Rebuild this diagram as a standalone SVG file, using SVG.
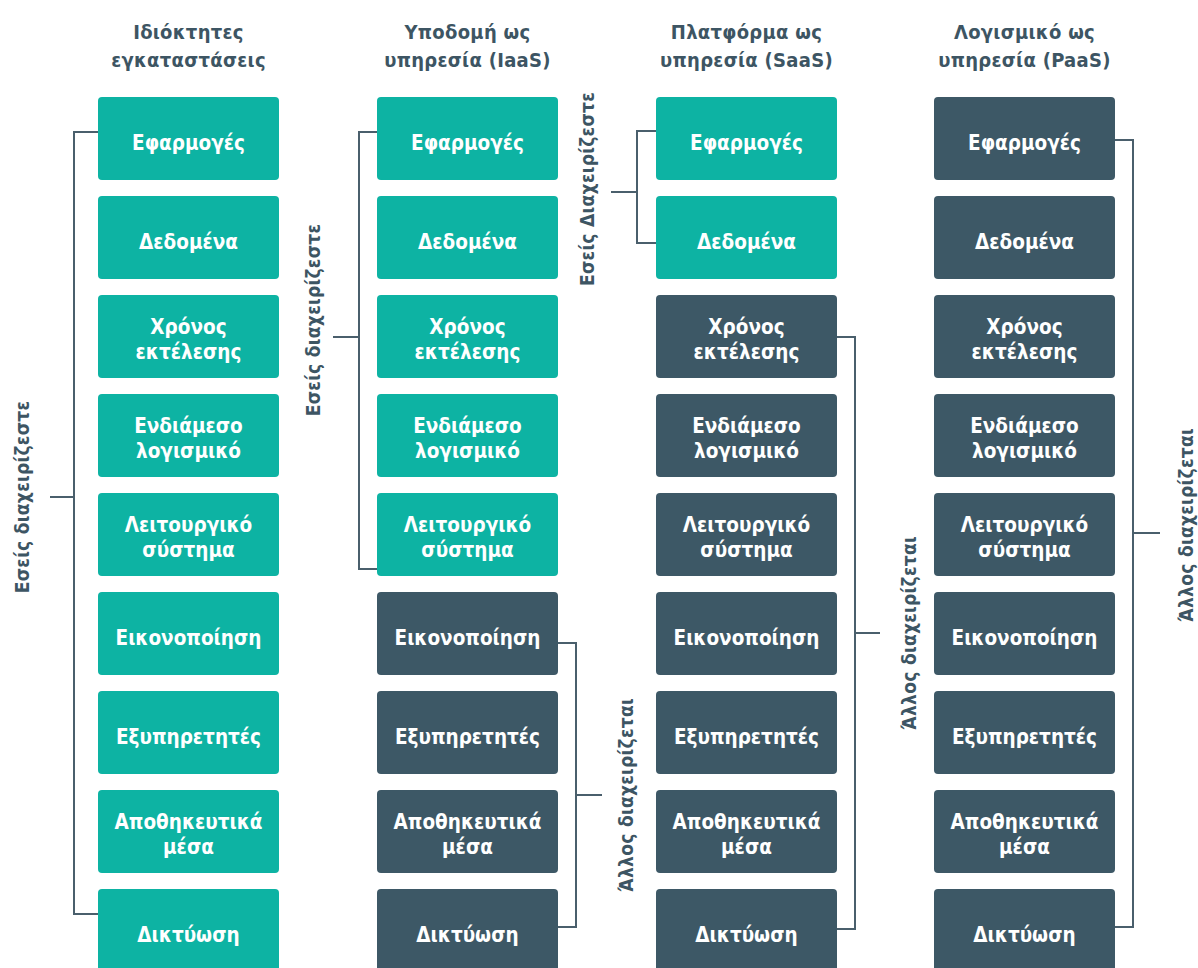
<svg xmlns="http://www.w3.org/2000/svg" width="1198" height="968" viewBox="0 0 1198 968">
<style>
text{font-family:"DejaVu Sans Condensed","DejaVu Sans","Liberation Sans Narrow",sans-serif;font-stretch:condensed;font-weight:bold;}
.t{fill:#ffffff;font-size:20.5px;text-anchor:middle;letter-spacing:0px;}
.h{fill:#3d5563;font-size:20px;text-anchor:middle;letter-spacing:0.3px;}
.l{fill:#3d5563;font-size:19px;text-anchor:middle;dominant-baseline:central;letter-spacing:0.3px;}
.g{fill:#0db3a3;}
.d{fill:#3d5866;}
.c{fill:none;stroke:#4a5f6c;stroke-width:2;}
</style>
<rect width="1198" height="968" fill="#ffffff"/>
<g id="titles">
<text class="h" x="188.5" y="39">Ιδιόκτητες</text><text class="h" x="188.5" y="67">εγκαταστάσεις</text>
<text class="h" x="467.5" y="39">Υποδομή ως</text><text class="h" x="467.5" y="67">υπηρεσία (IaaS)</text>
<text class="h" x="746.5" y="39">Πλατφόρμα ως</text><text class="h" x="746.5" y="67">υπηρεσία (SaaS)</text>
<text class="h" x="1024.5" y="39">Λογισμικό ως</text><text class="h" x="1024.5" y="67">υπηρεσία (PaaS)</text>
</g>
<g id="connectors">
<path class="c" d="M98,132 H74 V914 H98 M50,497 H74"/>
<path class="c" d="M377,132 H359 V569 H377 M333,337 H359"/>
<path class="c" d="M558,643 H576 V927 H558 M576,795 H602"/>
<path class="c" d="M656,131 H637 V243 H656 M611,192 H637"/>
<path class="c" d="M837,337 H855 V929 H837 M855,633 H880"/>
<path class="c" d="M1115,140 H1133 V927 H1115 M1133,533 H1160"/>
</g>
<g id="labels">
<text class="l" transform="translate(22,497) rotate(-90)">Εσείς διαχειρίζεστε</text>
<text class="l" transform="translate(313,320) rotate(-90)">Εσείς διαχειρίζεστε</text>
<text class="l" transform="translate(587,189) rotate(-90)">Εσείς Διαχειρίζεστε</text>
<text class="l" transform="translate(626,795) rotate(-90)">Άλλος διαχειρίζεται</text>
<text class="l" transform="translate(909,633) rotate(-90)">Άλλος διαχειρίζεται</text>
<text class="l" transform="translate(1186,525) rotate(-90)">Άλλος διαχειρίζεται</text>
</g>
<g id="col1">
<g id="c1-1"><rect class="g" x="98" y="97" width="181" height="83" rx="4"/><text class="t" x="188.5" y="150">Εφαρμογές</text></g>
<g id="c1-2"><rect class="g" x="98" y="196" width="181" height="83" rx="4"/><text class="t" x="188.5" y="249">Δεδομένα</text></g>
<g id="c1-3"><rect class="g" x="98" y="295" width="181" height="83" rx="4"/><text class="t" x="188.5" y="334">Χρόνος</text><text class="t" x="188.5" y="359">εκτέλεσης</text></g>
<g id="c1-4"><rect class="g" x="98" y="394" width="181" height="83" rx="4"/><text class="t" x="188.5" y="433">Ενδιάμεσο</text><text class="t" x="188.5" y="458">λογισμικό</text></g>
<g id="c1-5"><rect class="g" x="98" y="493" width="181" height="83" rx="4"/><text class="t" x="188.5" y="532">Λειτουργικό</text><text class="t" x="188.5" y="557">σύστημα</text></g>
<g id="c1-6"><rect class="g" x="98" y="592" width="181" height="83" rx="4"/><text class="t" x="188.5" y="645">Εικονοποίηση</text></g>
<g id="c1-7"><rect class="g" x="98" y="691" width="181" height="83" rx="4"/><text class="t" x="188.5" y="744">Εξυπηρετητές</text></g>
<g id="c1-8"><rect class="g" x="98" y="790" width="181" height="83" rx="4"/><text class="t" x="188.5" y="829">Αποθηκευτικά</text><text class="t" x="188.5" y="854">μέσα</text></g>
<g id="c1-9"><rect class="g" x="98" y="889" width="181" height="83" rx="4"/><text class="t" x="188.5" y="942">Δικτύωση</text></g>
</g>
<g id="col2">
<g id="c2-1"><rect class="g" x="377" y="97" width="181" height="83" rx="4"/><text class="t" x="467.5" y="150">Εφαρμογές</text></g>
<g id="c2-2"><rect class="g" x="377" y="196" width="181" height="83" rx="4"/><text class="t" x="467.5" y="249">Δεδομένα</text></g>
<g id="c2-3"><rect class="g" x="377" y="295" width="181" height="83" rx="4"/><text class="t" x="467.5" y="334">Χρόνος</text><text class="t" x="467.5" y="359">εκτέλεσης</text></g>
<g id="c2-4"><rect class="g" x="377" y="394" width="181" height="83" rx="4"/><text class="t" x="467.5" y="433">Ενδιάμεσο</text><text class="t" x="467.5" y="458">λογισμικό</text></g>
<g id="c2-5"><rect class="g" x="377" y="493" width="181" height="83" rx="4"/><text class="t" x="467.5" y="532">Λειτουργικό</text><text class="t" x="467.5" y="557">σύστημα</text></g>
<g id="c2-6"><rect class="d" x="377" y="592" width="181" height="83" rx="4"/><text class="t" x="467.5" y="645">Εικονοποίηση</text></g>
<g id="c2-7"><rect class="d" x="377" y="691" width="181" height="83" rx="4"/><text class="t" x="467.5" y="744">Εξυπηρετητές</text></g>
<g id="c2-8"><rect class="d" x="377" y="790" width="181" height="83" rx="4"/><text class="t" x="467.5" y="829">Αποθηκευτικά</text><text class="t" x="467.5" y="854">μέσα</text></g>
<g id="c2-9"><rect class="d" x="377" y="889" width="181" height="83" rx="4"/><text class="t" x="467.5" y="942">Δικτύωση</text></g>
</g>
<g id="col3">
<g id="c3-1"><rect class="g" x="656" y="97" width="181" height="83" rx="4"/><text class="t" x="746.5" y="150">Εφαρμογές</text></g>
<g id="c3-2"><rect class="g" x="656" y="196" width="181" height="83" rx="4"/><text class="t" x="746.5" y="249">Δεδομένα</text></g>
<g id="c3-3"><rect class="d" x="656" y="295" width="181" height="83" rx="4"/><text class="t" x="746.5" y="334">Χρόνος</text><text class="t" x="746.5" y="359">εκτέλεσης</text></g>
<g id="c3-4"><rect class="d" x="656" y="394" width="181" height="83" rx="4"/><text class="t" x="746.5" y="433">Ενδιάμεσο</text><text class="t" x="746.5" y="458">λογισμικό</text></g>
<g id="c3-5"><rect class="d" x="656" y="493" width="181" height="83" rx="4"/><text class="t" x="746.5" y="532">Λειτουργικό</text><text class="t" x="746.5" y="557">σύστημα</text></g>
<g id="c3-6"><rect class="d" x="656" y="592" width="181" height="83" rx="4"/><text class="t" x="746.5" y="645">Εικονοποίηση</text></g>
<g id="c3-7"><rect class="d" x="656" y="691" width="181" height="83" rx="4"/><text class="t" x="746.5" y="744">Εξυπηρετητές</text></g>
<g id="c3-8"><rect class="d" x="656" y="790" width="181" height="83" rx="4"/><text class="t" x="746.5" y="829">Αποθηκευτικά</text><text class="t" x="746.5" y="854">μέσα</text></g>
<g id="c3-9"><rect class="d" x="656" y="889" width="181" height="83" rx="4"/><text class="t" x="746.5" y="942">Δικτύωση</text></g>
</g>
<g id="col4">
<g id="c4-1"><rect class="d" x="934" y="97" width="181" height="83" rx="4"/><text class="t" x="1024.5" y="150">Εφαρμογές</text></g>
<g id="c4-2"><rect class="d" x="934" y="196" width="181" height="83" rx="4"/><text class="t" x="1024.5" y="249">Δεδομένα</text></g>
<g id="c4-3"><rect class="d" x="934" y="295" width="181" height="83" rx="4"/><text class="t" x="1024.5" y="334">Χρόνος</text><text class="t" x="1024.5" y="359">εκτέλεσης</text></g>
<g id="c4-4"><rect class="d" x="934" y="394" width="181" height="83" rx="4"/><text class="t" x="1024.5" y="433">Ενδιάμεσο</text><text class="t" x="1024.5" y="458">λογισμικό</text></g>
<g id="c4-5"><rect class="d" x="934" y="493" width="181" height="83" rx="4"/><text class="t" x="1024.5" y="532">Λειτουργικό</text><text class="t" x="1024.5" y="557">σύστημα</text></g>
<g id="c4-6"><rect class="d" x="934" y="592" width="181" height="83" rx="4"/><text class="t" x="1024.5" y="645">Εικονοποίηση</text></g>
<g id="c4-7"><rect class="d" x="934" y="691" width="181" height="83" rx="4"/><text class="t" x="1024.5" y="744">Εξυπηρετητές</text></g>
<g id="c4-8"><rect class="d" x="934" y="790" width="181" height="83" rx="4"/><text class="t" x="1024.5" y="829">Αποθηκευτικά</text><text class="t" x="1024.5" y="854">μέσα</text></g>
<g id="c4-9"><rect class="d" x="934" y="889" width="181" height="83" rx="4"/><text class="t" x="1024.5" y="942">Δικτύωση</text></g>
</g>
</svg>
